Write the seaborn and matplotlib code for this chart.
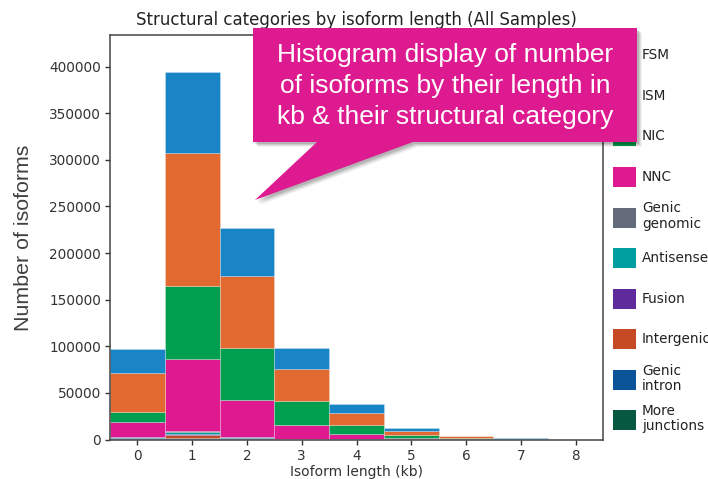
import matplotlib
matplotlib.use("Agg")
import matplotlib.pyplot as plt
from matplotlib.patches import Patch, Rectangle, Polygon
from matplotlib.legend_handler import HandlerPatch
import seaborn as sns
import pandas as pd

# Isoform length bins (kb)
length_bins = [0, 1, 2, 3, 4, 5, 6, 7, 8]

# Structural categories, top of the stack first
categories = ["FSM", "ISM", "NIC", "NNC", "Genic\ngenomic", "Antisense",
              "Fusion", "Intergenic", "Genic\nintron", "More\njunctions"]

# Isoform counts per length bin for each category
fsm = [26500, 86500, 51100, 23200, 9300, 4000, 1000, 300, 100]
ism = [41500, 142700, 77600, 34000, 13200, 4300, 2000, 500, 150]
nic = [10700, 78200, 56100, 25400, 10000, 2800, 800, 200, 50]
nnc = [15700, 78000, 39500, 15100, 5200, 1700, 400, 100, 30]
genic_genomic = [400, 800, 300, 200, 60, 20, 10, 5, 2]
antisense = [1500, 1800, 300, 100, 30, 10, 5, 2, 1]
fusion = [300, 1800, 1500, 200, 80, 20, 10, 5, 2]
intergenic = [500, 3200, 300, 100, 30, 10, 5, 2, 1]
genic_intron = [200, 1000, 200, 50, 20, 5, 2, 1, 1]
more_junctions = [100, 200, 100, 20, 10, 5, 2, 1, 1]

series = [fsm, ism, nic, nnc, genic_genomic, antisense, fusion,
          intergenic, genic_intron, more_junctions]

colors = ["#1984C6", "#E2692F", "#009E4F", "#DF1A91", "#646B7B",
          "#009E9E", "#5E2A9C", "#C64A24", "#0A5399", "#075840"]

records = []
for cat, vals in zip(categories, series):
    for b, v in zip(length_bins, vals):
        records.append({"length": b, "category": cat, "count": v})
df = pd.DataFrame(records)

sns.set_style("ticks")
plt.rcParams["font.family"] = ["DejaVu Sans"]

W, H = 708, 479
fig = plt.figure(figsize=(W / 100, H / 100), dpi=100)
ax = fig.add_axes([110 / W, 1 - 439.5 / H, (603 - 110) / W, (439.5 - 35) / H])

sns.histplot(data=df, x="length", weights="count", hue="category",
             hue_order=categories, palette=colors, multiple="stack",
             discrete=True, alpha=1, edgecolor=(1, 1, 1, 0.45), linewidth=0.4,
             legend=False, ax=ax)

ax.set_xlim(-0.5, 8.5)
ax.set_ylim(0, 434000)
ax.set_xticks(length_bins)
ax.set_yticks(range(0, 400001, 50000))
ax.tick_params(labelsize=9.8, colors="#333333", length=3.5, width=1, pad=3)
for s in ax.spines.values():
    s.set_visible(True)
    s.set_color("#444444")
    s.set_linewidth(1.1)
ax.set_title("Structural categories by isoform length (All Samples)",
             fontsize=12, color="#222222", pad=7)
ax.set_xlabel("Isoform length (kb)", fontsize=10, color="#333333", labelpad=2)
ax.set_ylabel("")
fig.text(24 / W, 1 - 238 / H, "Number of isoforms", rotation=90,
         ha="center", va="center", fontsize=15.4, color="#404040",
         family=["Liberation Sans", "DejaVu Sans"])


# Legend with fixed-size swatches centred in taller rows
def swatch(legend, orig_handle, xdescent, ydescent, width, height, fontsize):
    w, h = 23.4 * 0.72, 20 * 0.72
    cx = -xdescent + width / 2
    cy = -ydescent + height / 2
    return Rectangle((cx - w / 2, cy - h / 2), w, h)


handles = [Patch(facecolor=c, edgecolor="none") for c in colors]
leg = ax.legend(handles, categories, loc="upper left",
                bbox_to_anchor=(1.0108, 1.0), frameon=False, fontsize=9.8,
                handlelength=1.75, handleheight=3.3, labelspacing=0.59,
                handletextpad=0.43, borderaxespad=0.0, borderpad=0.3,
                handler_map={Patch: HandlerPatch(patch_func=swatch)})
for t in leg.get_texts():
    t.set_color("#222222")
    t.set_linespacing(1.1)


# Callout box with pointer and soft shadow
def px(x, y):
    return (x / W, 1 - y / H)


callout = [(253, 28), (637, 28), (637, 142), (413, 142), (255, 200),
           (317, 142), (253, 142)]
for i, a in enumerate([0.05, 0.07, 0.09, 0.11]):
    off = 5 - i
    shadow = Polygon([px(x + off, y + off) for x, y in callout],
                     closed=True, transform=fig.transFigure,
                     facecolor="#000000", alpha=a, edgecolor="none",
                     zorder=9)
    fig.add_artist(shadow)
box = Polygon([px(x, y) for x, y in callout], closed=True,
              transform=fig.transFigure, facecolor="#DE1A90",
              edgecolor="none", zorder=10)
fig.add_artist(box)
fig.text(445 / W, 1 - 86 / H,
         "Histogram display of number\nof isoforms by their length in\n"
         "kb & their structural category",
         ha="center", va="center", fontsize=19, color="white",
         linespacing=1.38, family=["Liberation Sans", "DejaVu Sans"],
         zorder=11)

fig.savefig("out.png", dpi=100)
